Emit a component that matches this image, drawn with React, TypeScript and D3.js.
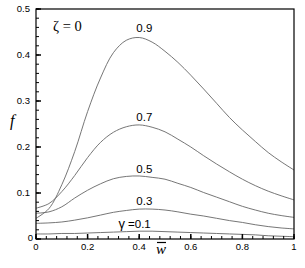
import React from "react";
import * as d3 from "d3";

const W_VALUES = [0, 0.05, 0.1, 0.15, 0.2, 0.25, 0.3, 0.35, 0.4, 0.45, 0.5, 0.55, 0.6, 0.65, 0.7, 0.75, 0.8, 0.85, 0.9, 0.95, 1.0];

const F_G01 = [0.011, 0.011, 0.012, 0.012, 0.013, 0.014, 0.015, 0.016, 0.017, 0.017, 0.016, 0.015, 0.014, 0.013, 0.012, 0.011, 0.010, 0.009, 0.007, 0.006, 0.005];
const F_G03 = [0.034, 0.035, 0.037, 0.041, 0.046, 0.052, 0.058, 0.062, 0.065, 0.065, 0.063, 0.059, 0.054, 0.050, 0.045, 0.040, 0.036, 0.031, 0.027, 0.024, 0.022];
const F_G05 = [0.056, 0.059, 0.070, 0.089, 0.106, 0.120, 0.131, 0.136, 0.137, 0.134, 0.130, 0.121, 0.112, 0.101, 0.091, 0.081, 0.071, 0.063, 0.056, 0.051, 0.047];
const F_G07 = [0.067, 0.077, 0.103, 0.138, 0.177, 0.210, 0.232, 0.244, 0.248, 0.243, 0.233, 0.217, 0.200, 0.181, 0.163, 0.146, 0.130, 0.116, 0.104, 0.094, 0.085];
const F_G09 = [0.045, 0.066, 0.118, 0.19, 0.277, 0.350, 0.405, 0.432, 0.438, 0.428, 0.408, 0.384, 0.356, 0.326, 0.295, 0.264, 0.237, 0.212, 0.188, 0.168, 0.150];

const SERIES = [F_G01, F_G03, F_G05, F_G07, F_G09];

const CURVE_LABELS = [
  { text: "γ =0.1", w: 0.32, f: 0.024 },
  { text: "0.3", w: 0.42, f: 0.074 },
  { text: "0.5", w: 0.42, f: 0.143 },
  { text: "0.7", w: 0.42, f: 0.256 },
  { text: "0.9", w: 0.42, f: 0.45 },
];

const X_TICKS = [0, 0.2, 0.4, 0.6, 0.8, 1];
const X_TICK_LABELS = ["0", "0.2", "0.4", "0.6", "0.8", "1"];
const Y_TICKS = [0, 0.1, 0.2, 0.3, 0.4, 0.5];
const Y_TICK_LABELS = ["0", "0.1", "0.2", "0.3", "0.4", "0.5"];

const L = 36, R = 294, T = 9, B = 239;

export default function App() {
  const x = d3.scaleLinear().domain([0, 1]).range([L, R]);
  const y = d3.scaleLinear().domain([0, 0.5]).range([B, T]);
  const line = d3
    .line<number>()
    .x((_, i) => x(W_VALUES[i]))
    .y((d) => y(d))
    .curve(d3.curveCatmullRom.alpha(0.5));

  const xMinor = d3.range(0, 1.0001, 0.04);
  const yMinor = d3.range(0, 0.5001, 0.02);
  const sans = "'Liberation Sans', Arial, sans-serif";
  const serif = "'Liberation Serif', 'Times New Roman', serif";

  return (
    <svg
      width={305}
      height={268}
      style={{ position: "absolute", left: 0, top: 0, background: "#fff" }}
    >
      <rect x={0} y={0} width={305} height={268} fill="#fff" />
      {SERIES.map((s, i) => (
        <path key={i} d={line(s) || ""} fill="none" stroke="#666" strokeWidth={0.9} />
      ))}
      <rect x={L} y={T} width={R - L} height={B - T} fill="none" stroke="#000" strokeWidth={1.2} />
      {yMinor.map((v, i) => (
        <line key={"ym" + i} x1={L} x2={L + 3} y1={y(v)} y2={y(v)} stroke="#000" strokeWidth={1} />
      ))}
      {Y_TICKS.map((v, i) => (
        <line key={"yM" + i} x1={L} x2={L + 5} y1={y(v)} y2={y(v)} stroke="#000" strokeWidth={1.5} />
      ))}
      {xMinor.map((v, i) => (
        <line key={"xm" + i} x1={x(v)} x2={x(v)} y1={B} y2={B - 3} stroke="#000" strokeWidth={1} />
      ))}
      {X_TICKS.map((v, i) => (
        <line key={"xM" + i} x1={x(v)} x2={x(v)} y1={B} y2={B - 5} stroke="#000" strokeWidth={1.5} />
      ))}
      {Y_TICKS.map((v, i) => (
        <text
          key={"yl" + i}
          x={i === 0 ? 33 : 30}
          y={y(v) + 3.3 - (i === 0 ? 1 : 0)}
          textAnchor="end"
          fontFamily={sans}
          fontSize={9.5}
          fill="#000"
        >
          {Y_TICK_LABELS[i]}
        </text>
      ))}
      {X_TICKS.map((v, i) => (
        <text
          key={"xl" + i}
          x={x(v)}
          y={B + 10.5}
          textAnchor="middle"
          fontFamily={sans}
          fontSize={9.5}
          fill="#000"
        >
          {X_TICK_LABELS[i]}
        </text>
      ))}
      {CURVE_LABELS.map((c, i) => (
        <text
          key={"cl" + i}
          x={x(c.w)}
          y={y(c.f)}
          textAnchor={i === 0 ? "start" : "middle"}
          fontFamily={sans}
          fontSize={11.5}
          fill="#000"
        >
          {i === 0 ? (
            <>
              <tspan fontSize={13}>γ</tspan>
              <tspan dx={3}>=0.1</tspan>
            </>
          ) : (
            c.text
          )}
        </text>
      ))}
      <text x={53} y={31} fontFamily={serif} fontSize={14.5} fill="#000">
        ζ = 0
      </text>
      <text x={10} y={126} fontFamily={serif} fontStyle="italic" fontSize={16} fill="#000">
        f
      </text>
      <text x={156} y={254} fontFamily={serif} fontStyle="italic" fontSize={15} fill="#000">
        w
      </text>
      <line x1={157} x2={166} y1={242.5} y2={242.5} stroke="#000" strokeWidth={1.2} />
    </svg>
  );
}
